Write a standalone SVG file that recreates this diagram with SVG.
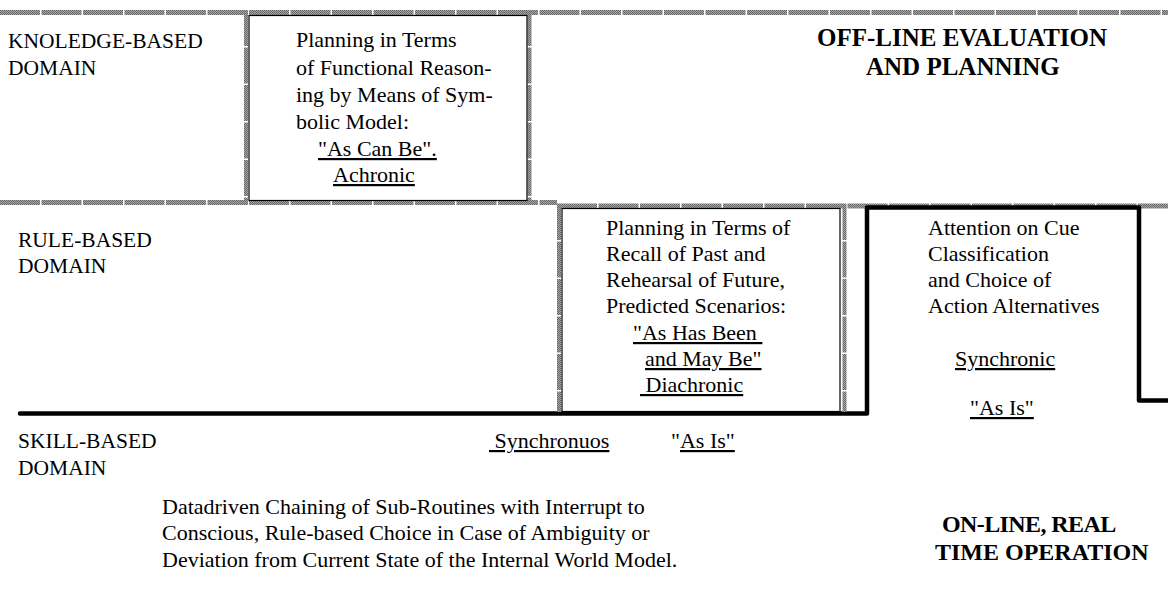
<svg xmlns="http://www.w3.org/2000/svg" width="1168" height="599" viewBox="0 0 1168 599">
<defs>
<pattern id="chk" width="2" height="2" patternUnits="userSpaceOnUse">
<rect width="2" height="2" fill="#a8a8a8"/>
<rect width="1" height="1" fill="#666"/>
<rect x="1" y="1" width="1" height="1" fill="#666"/>
</pattern>
<style>
text{font-family:'Liberation Serif','DejaVu Serif',serif;font-size:22px;fill:#000}
.cap{font-size:21.5px}
.b{font-weight:bold;font-size:25px}
.b2{font-weight:bold;font-size:24px}
.u{text-decoration:underline}
.g{stroke:url(#chk);fill:none}
.gh{stroke-width:5;stroke-dasharray:40 1.5}
.gv{stroke-width:4;stroke-dasharray:36 1.5}
.thin{fill:#fff;stroke:#000;stroke-width:1.2}
.thick{fill:none;stroke:#000;stroke-width:4.5;stroke-linecap:round;stroke-linejoin:round}
</style>
</defs>
<rect width="1168" height="599" fill="#fff"/>
<g id="connectors">
<line class="g gh" x1="0" y1="12.5" x2="1168" y2="12.5"/>
<line class="g gh" x1="0" y1="202.5" x2="557" y2="202.5"/>
<line class="g gh" x1="557" y1="206" x2="1168" y2="206"/>
<path class="thick" d="M20 413.5 H867 V207.5 H1139 V400.5 H1168"/>
</g>
<g font-family="Liberation Serif, DejaVu Serif, serif">
<g id="knowledge-label">
<text class="cap" x="8" y="48">KNOLEDGE-BASED</text>
<text class="cap" x="8" y="75">DOMAIN</text>
</g>
<g id="knowledge-box">
<line class="g gv" x1="246" y1="10" x2="246" y2="205"/>
<line class="g gv" x1="529.5" y1="10" x2="529.5" y2="205"/>
<rect class="thin" x="249" y="15.5" width="278" height="185"/>
<text x="296" y="47">Planning in Terms</text>
<text x="296" y="75">of Functional Reason-</text>
<text x="296" y="102">ing by Means of Sym-</text>
<text x="296" y="129">bolic Model:</text>
<text class="u" x="318" y="156">"As Can Be".</text>
<text class="u" x="333" y="182">Achronic</text>
</g>
<g id="offline-label">
<text class="b" x="817" y="46">OFF-LINE EVALUATION</text>
<text class="b" x="866" y="75">AND PLANNING</text>
</g>
<g id="rule-label">
<text class="cap" x="18" y="247">RULE-BASED</text>
<text class="cap" x="18" y="273">DOMAIN</text>
</g>
<g id="rule-box">
<line class="g gv" x1="559" y1="204" x2="559" y2="412"/>
<line class="g gv" x1="844.5" y1="204" x2="844.5" y2="412"/>
<rect class="thin" x="562" y="208.5" width="278" height="203"/>
<text x="606" y="235">Planning in Terms of</text>
<text x="606" y="261">Recall of Past and</text>
<text x="606" y="287">Rehearsal of Future,</text>
<text x="606" y="313">Predicted Scenarios:</text>
<text class="u" x="633" y="340" xml:space="preserve" style="white-space:pre">"As Has Been </text>
<text class="u" x="645" y="366">and May Be"</text>
<text class="u" x="640" y="392" xml:space="preserve" style="white-space:pre"> Diachronic</text>
</g>
<g id="attention-node">
<text x="928" y="235">Attention on Cue</text>
<text x="928" y="261">Classification</text>
<text x="928" y="287">and Choice of</text>
<text x="928" y="313">Action Alternatives</text>
<text class="u" x="955" y="366">Synchronic</text>
<text class="u" x="970" y="415">"As Is"</text>
</g>
<g id="skill-label">
<text class="cap" x="18" y="448">SKILL-BASED</text>
<text class="cap" x="18" y="475">DOMAIN</text>
</g>
<g id="skill-node">
<text class="u" x="489" y="448" xml:space="preserve" style="white-space:pre"> Synchronuos</text>
<text x="671" y="448">"<tspan class="u">As Is"</tspan></text>
<text x="162" y="514">Datadriven Chaining of Sub-Routines with Interrupt to</text>
<text x="162" y="540">Conscious, Rule-based Choice in Case of Ambiguity or</text>
<text x="162" y="567">Deviation from Current State of the Internal World Model.</text>
</g>
<g id="online-label">
<text class="b2" x="942" y="532" letter-spacing="-0.6">ON-LINE, REAL</text>
<text class="b2" x="935" y="560">TIME OPERATION</text>
</g>
</g>
</svg>
